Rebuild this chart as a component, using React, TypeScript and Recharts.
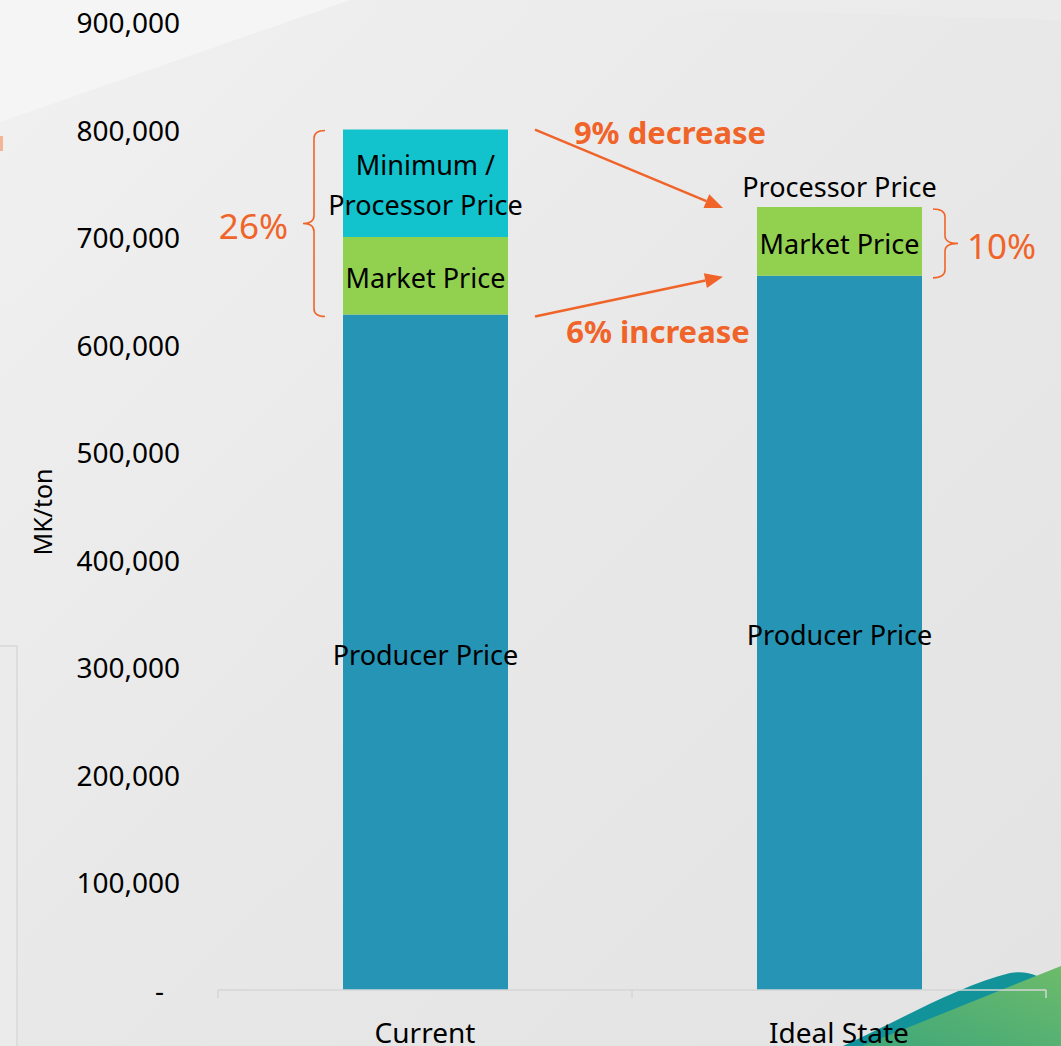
import React from 'react';
import { BarChart, Bar, XAxis, YAxis, LabelList, ReferenceLine } from 'recharts';

// Price build-up per ton, in MK
const categories = ['Current', 'Ideal State'];
const producerPrice = [628000, 664000];
const marketPrice = [72000, 64000];
const processorPrice = [100000, 0];

const yTicks = [0, 100000, 200000, 300000, 400000, 500000, 600000, 700000, 800000, 900000];

const producerLabel = 'Producer Price';
const marketLabel = 'Market Price';
const processorLabels = [['Minimum /', 'Processor Price'], ['Processor Price']];
const changeLabels = ['9% decrease', '6% increase'];
const shareLabels = ['26%', '10%'];

const data = categories.map((name, i) => ({
  name,
  producer: producerPrice[i],
  market: marketPrice[i],
  processor: processorPrice[i],
}));

const W = 1061;
const H = 1046;
const FONT = '"Noto Sans", "Open Sans", sans-serif';
const ORANGE = '#F0642A';
const C_PRODUCER = '#2694B5';
const C_MARKET = '#92D050';
const C_PROCESSOR = '#12C2CC';
const AXIS = '#D6D6D6';

const fmt = (v: number) => (v === 0 ? '-' : v.toLocaleString('en-US'));

const YTick = (props: any) => {
  const { x, y, payload } = props;
  const zero = payload.value === 0;
  return (
    <text
      x={zero ? x - 16 : x}
      y={y}
      textAnchor="end"
      dominantBaseline="central"
      fontFamily={FONT}
      fontSize={28}
      fill="#000"
    >
      {fmt(payload.value)}
    </text>
  );
};

const XTick = (props: any) => {
  const { x, y, payload, index } = props;
  const off = payload && typeof payload.offset === 'number' ? payload.offset : 0;
  const last = index === categories.length - 1;
  return (
    <g>
      {off > 0 && <line x1={x - off} y1={y - 8} x2={x - off} y2={y} stroke={AXIS} strokeWidth={1.5} />}
      {off > 0 && last && <line x1={x + off} y1={y - 8} x2={x + off} y2={y} stroke={AXIS} strokeWidth={1.5} />}
      <text x={x} y={y + 34} textAnchor="middle" dominantBaseline="central" fontFamily={FONT} fontSize={28} fill="#000">
        {payload.value}
      </text>
    </g>
  );
};

const centerText = (cx: number, cy: number, text: string, key?: string | number) => (
  <text
    key={key}
    x={cx}
    y={cy}
    textAnchor="middle"
    dominantBaseline="central"
    fontFamily={FONT}
    fontSize={27}
    fill="#000"
  >
    {text}
  </text>
);

const ProducerLabel = (props: any) => {
  const { x, y, width, height } = props;
  return centerText(x + width / 2, y + height / 2 + 2, producerLabel);
};

// Market segment label; when a bar has no processor segment, its processor caption sits above the bar
const MarketLabel = (props: any) => {
  const { x, y, width, height, index } = props;
  const cx = x + width / 2;
  const noProcessor = processorPrice[index] === 0;
  return (
    <g>
      {centerText(cx, y + height / 2 + 2, marketLabel)}
      {noProcessor && centerText(cx, y - 20, (processorLabels[index] || []).join(' '))}
    </g>
  );
};

const ProcessorLabel = (props: any) => {
  const { x, y, width, height, index } = props;
  if (!height || processorPrice[index] === 0) return null;
  const lines = processorLabels[index] || [];
  const cx = x + width / 2;
  const cy = y + height / 2 + 1;
  return (
    <g>
      {lines.map((t, i) => centerText(cx, cy + (i - (lines.length - 1) / 2) * 40, t, i))}
    </g>
  );
};

// Curly brace spanning y1..y2 at vertical line vx; tips point toward tipX, middle toward midX
const bracePath = (vx: number, y1: number, y2: number, tipX: number, midX: number) => {
  const r = 8;
  const mid = (y1 + y2) / 2;
  return [
    `M ${tipX} ${y1}`,
    `Q ${vx} ${y1} ${vx} ${y1 + r}`,
    `L ${vx} ${mid - r}`,
    `Q ${vx} ${mid} ${midX} ${mid}`,
    `Q ${vx} ${mid} ${vx} ${mid + r}`,
    `L ${vx} ${y2 - r}`,
    `Q ${vx} ${y2} ${tipX} ${y2}`,
  ].join(' ');
};

const LeftBrace = (label: string) => (p: any) => {
  const { x1, y1, y2 } = p;
  const vx = x1 - 111;
  const mid = (y1 + y2) / 2;
  return (
    <g>
      <path d={bracePath(vx, y1 + 1, y2 + 2, vx + 11, vx - 11)} fill="none" stroke={ORANGE} strokeWidth={1.6} />
      <text x={vx - 26} y={mid + 3} textAnchor="end" dominantBaseline="central" fontFamily={FONT} fontSize={35} fill={ORANGE}>
        {label}
      </text>
    </g>
  );
};

const RightBrace = (label: string) => (p: any) => {
  const { x1, y1, y2 } = p;
  const vx = x1 + 106;
  const mid = (y1 + y2) / 2;
  return (
    <g>
      <path d={bracePath(vx, y1 + 2, y2 + 2, vx - 12, vx + 13)} fill="none" stroke={ORANGE} strokeWidth={1.6} />
      <text x={vx + 22} y={mid + 4} textAnchor="start" dominantBaseline="central" fontFamily={FONT} fontSize={35} fill={ORANGE}>
        {label}
      </text>
    </g>
  );
};

const ArrowShape = (label: string, startDy: number, textDx: number, textDy: number) => (p: any) => {
  const { x1, y1, x2, y2 } = p;
  const sx = x1 + 110;
  const sy = y1 + startDy;
  const ex = x2 - 116;
  const ey = y2 + 1;
  const dx = ex - sx;
  const dy = ey - sy;
  const len = Math.sqrt(dx * dx + dy * dy);
  const ux = dx / len;
  const uy = dy / len;
  const headL = 18;
  const headW = 7.5;
  const bx = ex - ux * headL;
  const by = ey - uy * headL;
  const head = `M ${ex} ${ey} L ${bx - uy * headW} ${by + ux * headW} L ${bx + uy * headW} ${by - ux * headW} Z`;
  const mx = (x1 + x2) / 2;
  return (
    <g>
      <line x1={sx} y1={sy} x2={bx} y2={by} stroke={ORANGE} strokeWidth={2.5} />
      <path d={head} fill={ORANGE} />
      <text
        x={mx + textDx}
        y={y1 + textDy}
        textAnchor="middle"
        dominantBaseline="central"
        fontFamily={FONT}
        fontSize={31}
        fontWeight={700}
        fill={ORANGE}
      >
        {label}
      </text>
    </g>
  );
};

const Backdrop = () => (
  <svg width={W} height={H} style={{ position: 'absolute', left: 0, top: 0, display: 'block' }}>
    <defs>
      <linearGradient id="bg" x1="0" y1="0" x2="1" y2="1">
        <stop offset="0" stopColor="#F1F1F1" />
        <stop offset="0.5" stopColor="#E8E8E8" />
        <stop offset="1" stopColor="#E3E3E3" />
      </linearGradient>
      <linearGradient id="grn" x1="0" y1="1" x2="1" y2="0">
        <stop offset="0" stopColor="#3FA77A" />
        <stop offset="1" stopColor="#6DBB6A" />
      </linearGradient>
    </defs>
    <rect x={0} y={0} width={W} height={H} fill="url(#bg)" />
    <path d="M 0 0 L 350 0 L 0 122 Z" fill="#F5F5F5" />
    <path d="M 350 0 L 1061 0 L 1061 20 Z" fill="#EDEDED" opacity={0.6} />
    <rect x={0} y={136} width={3} height={15} fill="#F4B596" />
    <rect x={-2} y={646} width={19} height={420} fill="#EBEBEB" stroke="#D9D9D9" strokeWidth={1.5} />
    <path d="M 843 1046 C 900 1020, 960 985, 1010 973 C 1028 970, 1040 976, 1050 985 L 1050 1046 Z" fill="#12939A" />
    <path d="M 862 1046 L 1061 966 L 1061 1046 Z" fill="url(#grn)" />
  </svg>
);

export default function App() {
  return (
    <div style={{ position: 'fixed', left: 0, top: 0, width: W, height: H, overflow: 'hidden' }}>
      <Backdrop />
      <div style={{ position: 'absolute', left: 0, top: 0 }}>
        <BarChart width={W} height={H} data={data} margin={{ top: 22, right: 15, bottom: 0, left: 0 }} barSize={165}>
          <XAxis
            dataKey="name"
            height={56}
            axisLine={{ stroke: AXIS, strokeWidth: 1.5 }}
            tickLine={false}
            tickSize={8}
            tickMargin={0}
            tick={<XTick />}
            interval={0}
          />
          <YAxis
            width={218}
            domain={[0, 900000]}
            ticks={yTicks}
            axisLine={false}
            tickLine={false}
            tickSize={6}
            tickMargin={32}
            tick={<YTick />}
            interval={0}
            label={{
              content: (lp: any) => {
                const vb = lp.viewBox || { x: 0, y: 22, width: 218, height: 968 };
                const cx = 42;
                const cy = vb.y + vb.height / 2 + 6;
                return (
                  <text
                    x={cx}
                    y={cy}
                    transform={`rotate(-90 ${cx} ${cy})`}
                    textAnchor="middle"
                    dominantBaseline="central"
                    fontFamily={FONT}
                    fontSize={25}
                    fill="#000"
                  >
                    MK/ton
                  </text>
                );
              },
            }}
          />
          <Bar dataKey="producer" stackId="a" fill={C_PRODUCER} isAnimationActive={false}>
            <LabelList dataKey="producer" content={ProducerLabel} />
          </Bar>
          <Bar dataKey="market" stackId="a" fill={C_MARKET} isAnimationActive={false}>
            <LabelList dataKey="market" content={MarketLabel} />
          </Bar>
          <Bar dataKey="processor" stackId="a" fill={C_PROCESSOR} isAnimationActive={false}>
            <LabelList dataKey="processor" content={ProcessorLabel} />
          </Bar>
          <ReferenceLine
            segment={[
              { x: categories[0], y: producerPrice[0] + marketPrice[0] + processorPrice[0] },
              { x: categories[0], y: producerPrice[0] },
            ]}
            shape={LeftBrace(shareLabels[0])}
          />
          <ReferenceLine
            segment={[
              { x: categories[1], y: producerPrice[1] + marketPrice[1] + processorPrice[1] },
              { x: categories[1], y: producerPrice[1] },
            ]}
            shape={RightBrace(shareLabels[1])}
          />
          <ReferenceLine
            segment={[
              { x: categories[0], y: producerPrice[0] + marketPrice[0] + processorPrice[0] },
              { x: categories[1], y: producerPrice[1] + marketPrice[1] + processorPrice[1] },
            ]}
            shape={ArrowShape(changeLabels[0], 0, 38, 2)}
          />
          <ReferenceLine
            segment={[
              { x: categories[0], y: producerPrice[0] },
              { x: categories[1], y: producerPrice[1] },
            ]}
            shape={ArrowShape(changeLabels[1], 2, 26, 16)}
          />
        </BarChart>
      </div>
    </div>
  );
}
